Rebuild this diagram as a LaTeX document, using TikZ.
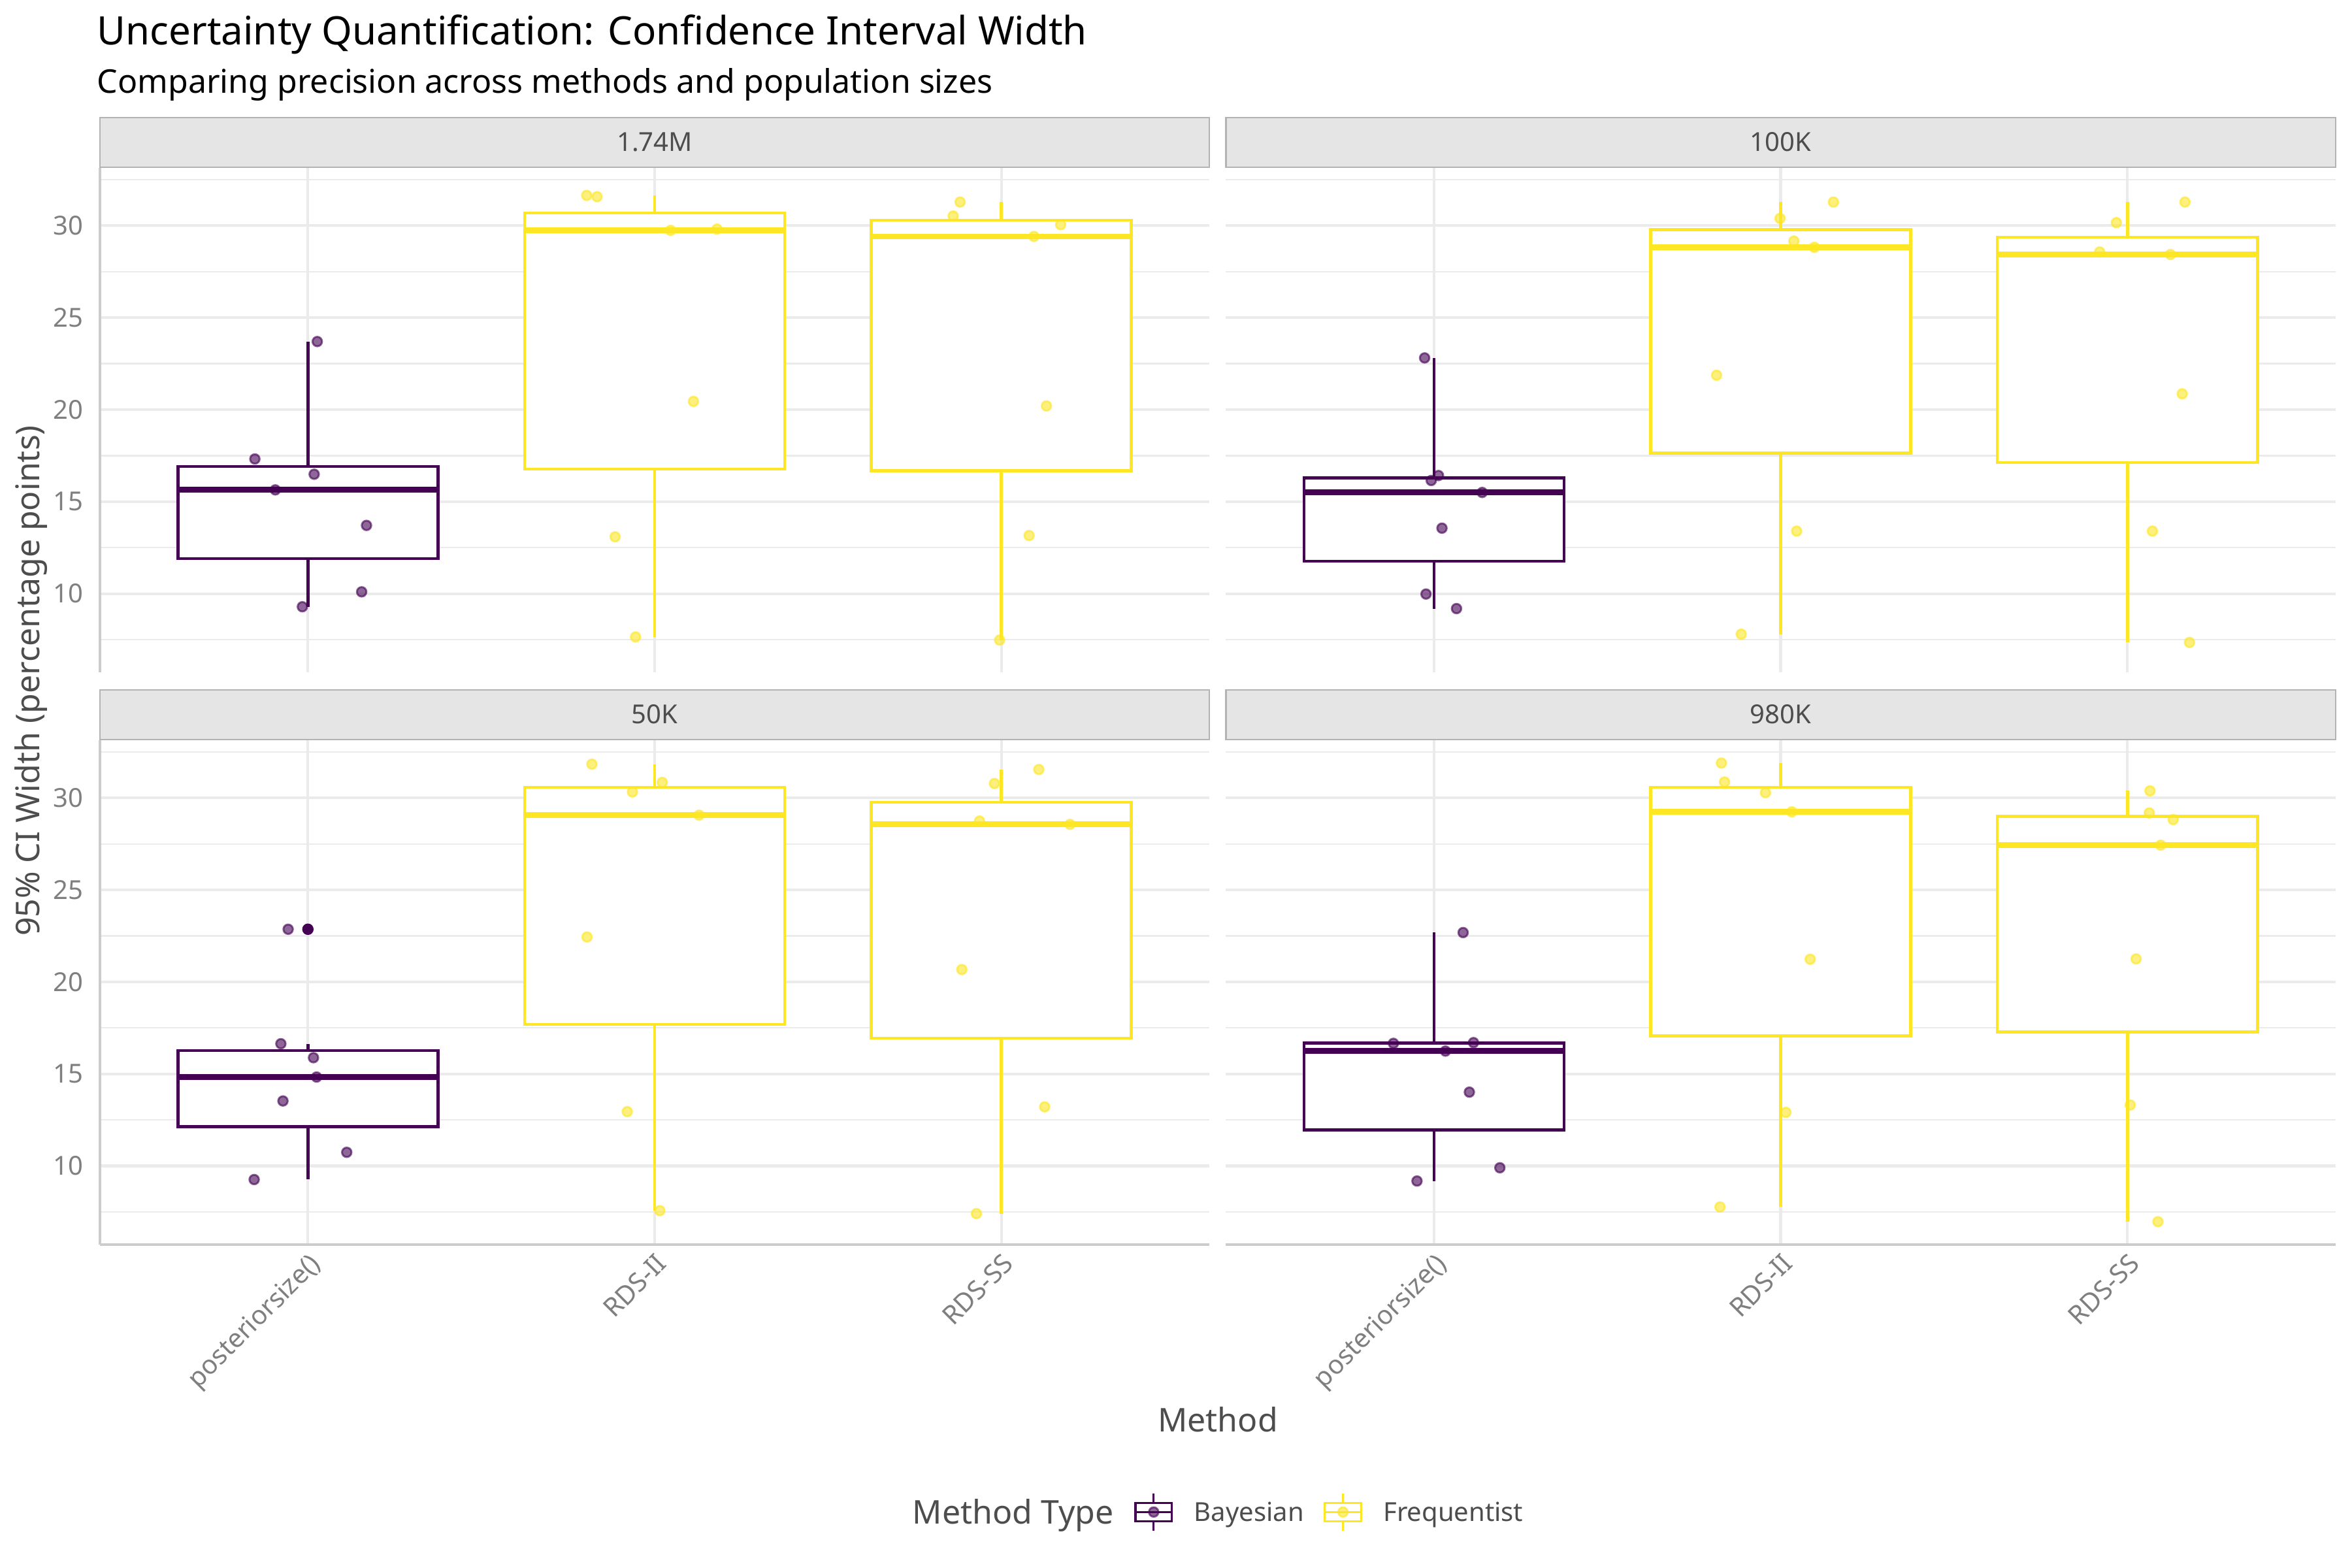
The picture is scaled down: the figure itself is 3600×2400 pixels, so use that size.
\documentclass[tikz,border=0pt]{standalone}
\usepackage{fontspec}
\setmainfont{Noto Sans}
\definecolor{bayes}{HTML}{440154}
\definecolor{freq}{HTML}{FDE725}
\definecolor{gridc}{HTML}{EBEBEB}
\definecolor{axisc}{HTML}{CCCCCC}
\definecolor{stripfill}{HTML}{E5E5E5}
\definecolor{stripline}{HTML}{B3B3B3}
\definecolor{txtdark}{HTML}{4D4D4D}
\definecolor{txtlight}{HTML}{7F7F7F}
\newcommand\fsz[1]{\fontsize{#1}{#1}\selectfont}
\newcommand\panelgrid[2]{%
  \foreach \v in {7.5,12.5,...,32.5} \draw[minorgrid] (0.4,\v) -- (3.6,\v);
  \foreach \v in {10,15,...,30} \draw[majorgrid] (0.4,\v) -- (3.6,\v);
  \foreach \c in {1,2,3} \draw[majorgrid] (\c,5.72) -- (\c,33.14);
  \draw[stripbox] (0.4,33.18) rectangle (3.6,35.88);
  \node[striptext] (#2) at (2,34.53) {#1};
}
\newcommand\boxwh[7]{%
  \draw[boxline,draw=#1] (#2,#6) -- (#2,#7);
  \draw[boxline,draw=#1] (#2,#4) -- (#2,#3);
  \draw[boxline,draw=#1,fill=white] (#2-0.375,#4) rectangle (#2+0.375,#6);
  \draw[medline,draw=#1] (#2-0.375,#5) -- (#2+0.375,#5);
}
\newcommand\jpts[2]{\foreach \a/\b in {#2} \path[jit=#1] (\a,\b) circle[radius=1.75pt];}
\begin{document}
\begin{tikzpicture}[x=0.24pt,y=-0.24pt,
  majorgrid/.style={draw=gridc, line width=1.0pt},
  minorgrid/.style={draw=gridc, line width=0.53pt},
  axisline/.style={draw=axisc, line width=1.07pt},
  stripbox/.style={draw=stripline, fill=stripfill, line width=0.5pt},
  striptext/.style={inner sep=0pt, text=txtdark, font=\fsz{9.6}},
  ylab/.style={inner sep=0pt, anchor=east, text=txtlight, font=\fsz{9.6}},
  xlab/.style={inner sep=0pt, anchor=north east, rotate=45, text=txtlight, font=\fsz{9.6}},
  boxline/.style={line width=1.07pt, line cap=butt, line join=miter},
  medline/.style={line width=2.1pt, line cap=butt},
  jit/.style={fill=#1, draw=#1, fill opacity=0.6, draw opacity=0.6, line width=0.7pt},
  keyline/.style={line width=0.75pt, line cap=butt}
]
\fill[white] (0,0) rectangle (3600,2400);
\useasboundingbox (0,0) rectangle (3600,2400);

% ---------- title ----------
\node[anchor=base west, inner sep=0pt, font=\fsz{14.4}] (title) at (148,69) {Uncertainty Quantification: Confidence Interval Width};
\node[anchor=base west, inner sep=0pt, font=\fsz{12}] (subtitle) at (148,142.6) {Comparing precision across methods and population sizes};

% ---------- panel 1.74M (top left) ----------
\begin{scope}[shift={(-14.256pt,-285.696pt)}, x=127.368pt, y=6.7608pt]
  \panelgrid{1.74M}{stripA}
  \draw[axisline] (0.4,5.72) -- (0.4,33.14);
  \foreach \v in {10,15,...,30} \node[ylab] (ytl\v) at (0.3526,\v) {\v};
  \boxwh{bayes}{1}{9.29}{11.905}{15.64}{16.905}{23.70}
  \boxwh{freq}{2}{7.65}{16.77}{29.74}{30.69}{31.64}
  \boxwh{freq}{3}{7.48}{16.68}{29.41}{30.285}{31.28}
  \jpts{bayes}{1.027/23.70,0.847/17.32,1.018/16.49,0.906/15.64,1.169/13.71,1.155/10.10,0.984/9.29}
  \jpts{freq}{1.804/31.64,1.834/31.57,2.046/29.74,2.180/29.81,2.112/20.45,1.886/13.09,1.945/7.65}
  \jpts{freq}{2.881/31.28,2.861/30.52,3.094/29.41,3.171/30.05,3.130/20.20,3.080/13.16,2.995/7.48}
\end{scope}

% ---------- panel 100K (top right) ----------
\begin{scope}[shift={(399.408pt,-285.696pt)}, x=127.368pt, y=6.7608pt]
  \panelgrid{100K}{stripB}
  \boxwh{bayes}{1}{9.19}{11.77}{15.50}{16.285}{22.81}
  \boxwh{freq}{2}{7.80}{17.635}{28.82}{29.775}{31.28}
  \boxwh{freq}{3}{7.35}{17.13}{28.43}{29.365}{31.28}
  \jpts{bayes}{0.973/22.81,1.013/16.42,0.992/16.15,1.139/15.50,1.023/13.56,0.977/9.98,1.065/9.19}
  \jpts{freq}{2.152/31.28,1.998/30.39,2.038/29.16,2.097/28.82,1.815/21.87,2.046/13.40,1.886/7.80}
  \jpts{freq}{3.166/31.28,2.968/30.16,2.920/28.57,3.124/28.43,3.158/20.86,3.072/13.40,3.179/7.35}
\end{scope}

% ---------- panel 50K (bottom left) ----------
\begin{scope}[shift={(-14.256pt,-495.912pt)}, x=127.368pt, y=6.7608pt]
  \panelgrid{50K}{stripC}
  \draw[axisline] (0.4,5.72) -- (0.4,33.14);
  \draw[axisline] (0.4,5.72) -- (3.6,5.72);
  \foreach \v in {10,15,...,30} \node[ylab] (ybl\v) at (0.3526,\v) {\v};
  \foreach \c/\t in {1/posteriorsize(),2/RDS-II,3/RDS-SS} \node[xlab] (xbl\c) at (\c,5.371) {\t};
  \boxwh{bayes}{1}{9.26}{12.135}{14.83}{16.26}{16.64}
  \boxwh{freq}{2}{7.57}{17.695}{29.06}{30.58}{31.83}
  \boxwh{freq}{3}{7.41}{16.94}{28.56}{29.76}{31.54}
  \fill[bayes] (1,22.86) circle[radius=2.1pt];
  \jpts{bayes}{0.943/22.86,0.922/16.64,1.016/15.88,1.025/14.83,0.928/13.53,1.112/10.74,0.845/9.26}
  \jpts{freq}{1.819/31.83,2.022/30.84,1.936/30.32,2.128/29.06,1.805/22.44,1.921/12.95,2.015/7.57}
  \jpts{freq}{3.108/31.54,2.980/30.78,2.937/28.74,3.198/28.56,2.886/20.67,3.125/13.21,2.928/7.41}
\end{scope}

% ---------- panel 980K (bottom right) ----------
\begin{scope}[shift={(399.408pt,-495.912pt)}, x=127.368pt, y=6.7608pt]
  \panelgrid{980K}{stripD}
  \draw[axisline] (0.4,5.72) -- (3.6,5.72);
  \foreach \c/\t in {1/posteriorsize(),2/RDS-II,3/RDS-SS} \node[xlab] (xbr\c) at (\c,5.371) {\t};
  \boxwh{bayes}{1}{9.18}{11.955}{16.24}{16.68}{22.68}
  \boxwh{freq}{2}{7.77}{17.07}{29.24}{30.57}{31.89}
  \boxwh{freq}{3}{6.97}{17.28}{27.43}{29.00}{30.38}
  \jpts{bayes}{1.084/22.68,0.883/16.66,1.114/16.70,1.033/16.24,1.102/14.01,1.190/9.90,0.951/9.18}
  \jpts{freq}{1.829/31.89,1.838/30.86,1.956/30.28,2.032/29.24,2.085/21.23,2.015/12.91,1.825/7.77}
  \jpts{freq}{3.065/30.38,3.063/29.18,3.132/28.82,3.096/27.43,3.025/21.25,3.008/13.31,3.088/6.97}
\end{scope}

% ---------- axis titles ----------
\node[anchor=base, inner sep=0pt, text=txtdark, font=\fsz{12}] (xtitle) at (1864,2191.7) {Method};
\node[anchor=base, rotate=90, inner sep=0pt, text=txtdark, font=\fsz{12}] (ytitle) at (60.5,1042) {95\% CI Width (percentage points)};

% ---------- legend ----------
\node[anchor=base west, inner sep=0pt, text=txtdark, font=\fsz{12}] (legtitle) at (1396,2332) {Method Type};
\foreach \k/\cx/\col in {B/1765.85/bayes, F/2055.5/freq} {
  \coordinate (key\k) at (\cx,2314.3);
  \draw[keyline, draw=\col] ([yshift=-13.85*0.24pt]key\k) -- ([yshift=-28.4*0.24pt]key\k);
  \draw[keyline, draw=\col] ([yshift=13.85*0.24pt]key\k) -- ([yshift=28.4*0.24pt]key\k);
  \draw[keyline, draw=\col, fill=white] ([xshift=-27.85*0.24pt,yshift=-13.85*0.24pt]key\k) rectangle ([xshift=27.85*0.24pt,yshift=13.85*0.24pt]key\k);
  \draw[keyline, draw=\col] ([xshift=-27.85*0.24pt]key\k) -- ([xshift=27.85*0.24pt]key\k);
  \path[jit=\col] (key\k) circle[radius=1.75pt];
}
\node[anchor=base west, inner sep=0pt, text=txtdark, font=\fsz{9.6}] (legB) at (1827,2328.3) {Bayesian};
\node[anchor=base west, inner sep=0pt, text=txtdark, font=\fsz{9.6}] (legF) at (2116.5,2328.3) {Frequentist};
\end{tikzpicture}
\end{document}
